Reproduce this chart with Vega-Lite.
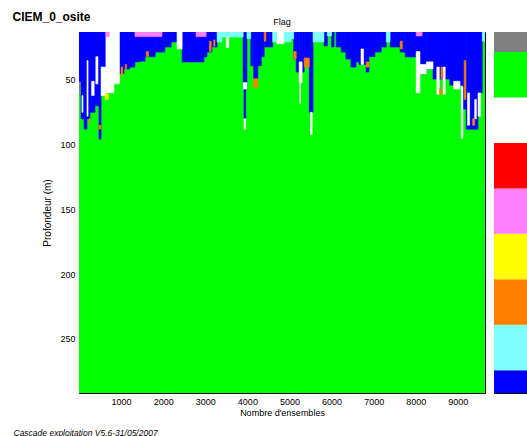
{
"$schema": "https://vega.github.io/schema/vega-lite/v6.json",
"padding": {"left": 12, "top": 10, "right": 0, "bottom": 0},
"background": "white",
"title": {"text": "CIEM_0_osite", "anchor": "start", "fontSize": 12, "fontWeight": "bold", "font": "Liberation Sans", "color": "black", "dx": 0, "dy": 6, "offset": 0},
"datasets": {
"bar": [
{"flag": 0, "lo": -0.5, "hi": 0.5},
{"flag": 1, "lo": 0.5, "hi": 1.5},
{"flag": 2, "lo": 1.5, "hi": 2.5},
{"flag": 3, "lo": 2.5, "hi": 3.5},
{"flag": 4, "lo": 3.5, "hi": 4.5},
{"flag": 5, "lo": 4.5, "hi": 5.5},
{"flag": 6, "lo": 5.5, "hi": 6.5},
{"flag": 7, "lo": 6.5, "hi": 7.5},
{"flag": 8, "lo": 7.5, "hi": 8.5}
],
"cells": [
{"e0":0,"e1":9645,"z0":12.9,"z1":292,"flag":7},
{"e0":0,"e1":48,"z0":12.9,"z1":51.6,"flag":0},
{"e0":48,"e1":120,"z0":12.9,"z1":80,"flag":0},
{"e0":120,"e1":190,"z0":12.9,"z1":88,"flag":0},
{"e0":190,"e1":260,"z0":12.9,"z1":80,"flag":0},
{"e0":260,"e1":380,"z0":12.9,"z1":75,"flag":0},
{"e0":380,"e1":475,"z0":12.9,"z1":70,"flag":0},
{"e0":475,"e1":525,"z0":12.9,"z1":95.7,"flag":0},
{"e0":525,"e1":640,"z0":12.9,"z1":40,"flag":0},
{"e0":960,"e1":1070,"z0":12.9,"z1":45,"flag":0},
{"e0":1070,"e1":1210,"z0":12.9,"z1":41.5,"flag":0},
{"e0":1210,"e1":1330,"z0":12.9,"z1":40,"flag":0},
{"e0":1330,"e1":1450,"z0":12.9,"z1":36,"flag":0},
{"e0":1450,"e1":1570,"z0":12.9,"z1":35.4,"flag":0},
{"e0":1570,"e1":1810,"z0":12.9,"z1":32,"flag":0},
{"e0":1810,"e1":2040,"z0":12.9,"z1":28.4,"flag":0},
{"e0":2040,"e1":2190,"z0":12.9,"z1":24.5,"flag":0},
{"e0":2190,"e1":2330,"z0":12.9,"z1":20.6,"flag":0},
{"e0":2450,"e1":2970,"z0":12.9,"z1":36.1,"flag":0},
{"e0":2970,"e1":3040,"z0":12.9,"z1":32.2,"flag":0},
{"e0":3040,"e1":3160,"z0":12.9,"z1":28.4,"flag":0},
{"e0":3160,"e1":3280,"z0":12.9,"z1":24.5,"flag":0},
{"e0":3900,"e1":3990,"z0":12.9,"z1":57,"flag":0},
{"e0":3920,"e1":3960,"z0":57,"z1":80,"flag":0},
{"e0":4080,"e1":4150,"z0":12.9,"z1":39,"flag":0},
{"e0":4150,"e1":4250,"z0":12.9,"z1":49,"flag":0},
{"e0":4250,"e1":4330,"z0":12.9,"z1":39,"flag":0},
{"e0":4330,"e1":4400,"z0":12.9,"z1":32,"flag":0},
{"e0":4400,"e1":4520,"z0":12.9,"z1":24.5,"flag":0},
{"e0":4520,"e1":4600,"z0":12.9,"z1":24.5,"flag":0},
{"e0":5100,"e1":5160,"z0":12.9,"z1":33.8,"flag":0},
{"e0":5160,"e1":5230,"z0":12.9,"z1":43.9,"flag":0},
{"e0":5230,"e1":5300,"z0":12.9,"z1":36,"flag":0},
{"e0":5300,"e1":5350,"z0":12.9,"z1":43.9,"flag":0},
{"e0":5350,"e1":5470,"z0":12.9,"z1":36,"flag":0},
{"e0":5470,"e1":5560,"z0":12.9,"z1":75,"flag":0},
{"e0":5820,"e1":5900,"z0":12.9,"z1":23.7,"flag":0},
{"e0":6000,"e1":6060,"z0":12.9,"z1":24.5,"flag":0},
{"e0":6110,"e1":6230,"z0":12.9,"z1":24.5,"flag":0},
{"e0":6230,"e1":6340,"z0":12.9,"z1":28.4,"flag":0},
{"e0":6340,"e1":6460,"z0":12.9,"z1":33.8,"flag":0},
{"e0":6460,"e1":6580,"z0":12.9,"z1":40,"flag":0},
{"e0":6580,"e1":6650,"z0":12.9,"z1":36,"flag":0},
{"e0":6650,"e1":6820,"z0":12.9,"z1":38,"flag":0},
{"e0":6820,"e1":6890,"z0":12.9,"z1":43.9,"flag":0},
{"e0":6890,"e1":7030,"z0":12.9,"z1":32,"flag":0},
{"e0":7030,"e1":7180,"z0":12.9,"z1":28.4,"flag":0},
{"e0":7180,"e1":7300,"z0":12.9,"z1":24.5,"flag":0},
{"e0":7390,"e1":7630,"z0":12.9,"z1":24.5,"flag":0},
{"e0":7630,"e1":7750,"z0":12.9,"z1":28.4,"flag":0},
{"e0":7750,"e1":8100,"z0":12.9,"z1":32.2,"flag":0},
{"e0":8100,"e1":8250,"z0":12.9,"z1":45.4,"flag":0},
{"e0":8250,"e1":8410,"z0":12.9,"z1":41.5,"flag":0},
{"e0":8410,"e1":8810,"z0":12.9,"z1":49.3,"flag":0},
{"e0":8810,"e1":9120,"z0":12.9,"z1":54,"flag":0},
{"e0":9120,"e1":9200,"z0":12.9,"z1":72.5,"flag":0},
{"e0":9200,"e1":9480,"z0":12.9,"z1":88,"flag":0},
{"e0":9480,"e1":9580,"z0":12.9,"z1":60,"flag":0},
{"e0":70,"e1":95,"z0":62,"z1":75,"flag":6},
{"e0":190,"e1":215,"z0":35,"z1":78,"flag":6},
{"e0":300,"e1":360,"z0":51,"z1":62,"flag":6},
{"e0":400,"e1":450,"z0":32,"z1":53,"flag":6},
{"e0":525,"e1":640,"z0":40,"z1":62,"flag":6},
{"e0":640,"e1":830,"z0":12.9,"z1":60,"flag":6},
{"e0":830,"e1":960,"z0":12.9,"z1":53,"flag":6},
{"e0":2330,"e1":2450,"z0":12.9,"z1":26,"flag":6},
{"e0":3500,"e1":3560,"z0":12.9,"z1":25,"flag":6},
{"e0":3900,"e1":3990,"z0":52,"z1":57,"flag":6},
{"e0":3920,"e1":3960,"z0":80,"z1":88,"flag":6},
{"e0":4700,"e1":4870,"z0":12.9,"z1":22,"flag":6},
{"e0":5230,"e1":5300,"z0":36,"z1":52,"flag":6},
{"e0":5245,"e1":5265,"z0":52,"z1":68,"flag":6},
{"e0":5500,"e1":5540,"z0":75,"z1":92,"flag":6},
{"e0":6700,"e1":6760,"z0":26,"z1":38,"flag":6},
{"e0":8010,"e1":8100,"z0":28,"z1":60,"flag":6},
{"e0":8100,"e1":8250,"z0":38,"z1":45.4,"flag":6},
{"e0":8250,"e1":8410,"z0":36,"z1":41.5,"flag":6},
{"e0":8500,"e1":8560,"z0":40,"z1":61,"flag":6},
{"e0":8650,"e1":8700,"z0":40,"z1":61,"flag":6},
{"e0":8900,"e1":9050,"z0":51,"z1":57,"flag":6},
{"e0":9080,"e1":9120,"z0":55,"z1":95,"flag":6},
{"e0":9230,"e1":9280,"z0":60,"z1":85,"flag":6},
{"e0":9400,"e1":9440,"z0":65,"z1":80,"flag":6},
{"e0":9480,"e1":9540,"z0":60,"z1":78,"flag":6},
{"e0":3280,"e1":3400,"z0":12.9,"z1":20.6,"flag":1},
{"e0":3400,"e1":3900,"z0":12.9,"z1":16.8,"flag":1},
{"e0":3990,"e1":4080,"z0":12.9,"z1":18,"flag":1},
{"e0":4600,"e1":4700,"z0":12.9,"z1":20.6,"flag":1},
{"e0":4870,"e1":5040,"z0":12.9,"z1":20.6,"flag":1},
{"e0":5040,"e1":5100,"z0":12.9,"z1":18,"flag":1},
{"e0":5560,"e1":5820,"z0":12.9,"z1":20.6,"flag":1},
{"e0":5900,"e1":6000,"z0":12.9,"z1":16,"flag":1},
{"e0":7300,"e1":7390,"z0":12.9,"z1":20.6,"flag":1},
{"e0":9580,"e1":9645,"z0":12.9,"z1":20,"flag":1},
{"e0":640,"e1":720,"z0":12.9,"z1":16.5,"flag":4},
{"e0":1330,"e1":1970,"z0":12.9,"z1":16.5,"flag":4},
{"e0":2780,"e1":3020,"z0":12.9,"z1":16.5,"flag":4},
{"e0":8010,"e1":8150,"z0":12.9,"z1":16,"flag":4},
{"e0":475,"e1":525,"z0":85,"z1":88,"flag":2},
{"e0":1000,"e1":1040,"z0":40,"z1":47,"flag":2},
{"e0":1100,"e1":1130,"z0":38,"z1":42,"flag":2},
{"e0":1600,"e1":1650,"z0":28,"z1":32,"flag":2},
{"e0":3100,"e1":3140,"z0":20,"z1":28,"flag":2},
{"e0":3200,"e1":3230,"z0":19,"z1":24,"flag":2},
{"e0":4150,"e1":4250,"z0":49,"z1":56,"flag":2},
{"e0":4400,"e1":4440,"z0":12.9,"z1":20,"flag":2},
{"e0":5100,"e1":5160,"z0":28,"z1":33.8,"flag":2},
{"e0":5350,"e1":5470,"z0":33,"z1":40,"flag":2},
{"e0":6820,"e1":6890,"z0":36,"z1":40,"flag":2},
{"e0":7630,"e1":7680,"z0":20,"z1":26,"flag":2},
{"e0":8600,"e1":8640,"z0":40,"z1":49,"flag":2},
{"e0":8560,"e1":8620,"z0":57,"z1":61,"flag":2},
{"e0":9150,"e1":9190,"z0":35,"z1":65,"flag":2},
{"e0":9350,"e1":9400,"z0":80,"z1":85,"flag":2},
{"e0":240,"e1":260,"z0":80,"z1":84,"flag":2},
{"e0":620,"e1":700,"z0":61,"z1":65,"flag":3},
{"e0":0,"e1":30,"z0":51.6,"z1":60,"flag":8}
]
},
"spacing": 9,
"bounds": "flush",
"hconcat": [
{
"width": 406,
"height": 361,
"title": {"text": "Flag", "fontSize": 9, "fontWeight": "normal", "font": "Liberation Sans", "color": "black", "offset": 5},
"data": {"name": "cells"},
"layer": [
{
"mark": {"type": "rect", "clip": true, "strokeWidth": 0.6},
"encoding": {
"x": {"field": "e0", "type": "quantitative", "scale": {"domain": [0, 9645], "nice": false, "zero": false}, "axis": {"orient": "bottom", "values": [1000,2000,3000,4000,5000,6000,7000,8000,9000], "format": "d", "tickSize": -4, "labelPadding": 8, "domain": false, "title": "Nombre d'ensembles", "titlePadding": 2}},
"x2": {"field": "e1"},
"y": {"field": "z0", "type": "quantitative", "scale": {"domain": [12.9, 292], "nice": false, "zero": false, "reverse": true}, "axis": {"orient": "left", "values": [50, 100, 150, 200, 250], "tickSize": -4, "labelPadding": 8, "domain": false, "title": "Profondeur (m)", "titleFontSize": 10, "titlePadding": 7}},
"y2": {"field": "z1"},
"color": {"field": "flag", "type": "nominal", "scale": {"domain": [0,1,2,3,4,5,6,7,8], "range": ["#0000ff","#80ffff","#ff8000","#ffff00","#ff80ff","#ff0000","#ffffff","#00ff00","#808080"]}, "legend": null},
"stroke": {"field": "flag", "type": "nominal", "scale": {"domain": [0,1,2,3,4,5,6,7,8], "range": ["#0000ff","#80ffff","#ff8000","#ffff00","#ff80ff","#ff0000","#ffffff","#00ff00","#808080"]}, "legend": null}
}
},
{
"mark": {"type": "rect", "clip": true, "opacity": 0},
"encoding": {
"x": {"field": "e0", "type": "quantitative", "scale": {"domain": [0, 9645], "nice": false, "zero": false}},
"x2": {"field": "e1"},
"y": {"field": "z0", "type": "quantitative", "scale": {"domain": [12.9, 292], "nice": false, "zero": false, "reverse": true}, "axis": {"orient": "right", "labels": false, "values": [50, 100, 150, 200, 250], "tickSize": -4, "domain": false, "title": null}},
"y2": {"field": "z1"}
}
}
],
"resolve": {"axis": {"y": "independent"}}
},
{
"width": 35,
"height": 361,
"data": {"name": "bar"},
"mark": {"type": "rect", "clip": true},
"encoding": {
"x": {"value": 0},
"x2": {"value": "width"},
"y": {"field": "lo", "type": "quantitative", "scale": {"domain": [0, 7.94], "nice": false, "zero": false}, "axis": {"orient": "left", "labels": false, "values": [1,2,3,4,5,6,7], "tickSize": -4, "domain": false, "title": "Cascade exploitation V5.6-31/05/2007", "titleAngle": 0, "titleX": -481, "titleY": 400, "titleAlign": "left", "titleBaseline": "middle", "titleFontSize": 8.5, "titleFontStyle": "italic", "titleFontWeight": "normal"}},
"y2": {"field": "hi"},
"color": {"field": "flag", "type": "nominal", "scale": {"domain": [0,1,2,3,4,5,6,7,8], "range": ["#0000ff","#80ffff","#ff8000","#ffff00","#ff80ff","#ff0000","#ffffff","#00ff00","#808080"]}, "legend": null}
}
}
],
"config": {
"view": {"stroke": "#000000", "strokeWidth": 1},
"axis": {"labelFont": "Liberation Sans", "titleFont": "Liberation Sans", "labelFontSize": 9, "titleFontSize": 9, "titleFontWeight": "normal", "labelColor": "#000000", "titleColor": "#000000", "tickColor": "#000000", "grid": false}
}
}
